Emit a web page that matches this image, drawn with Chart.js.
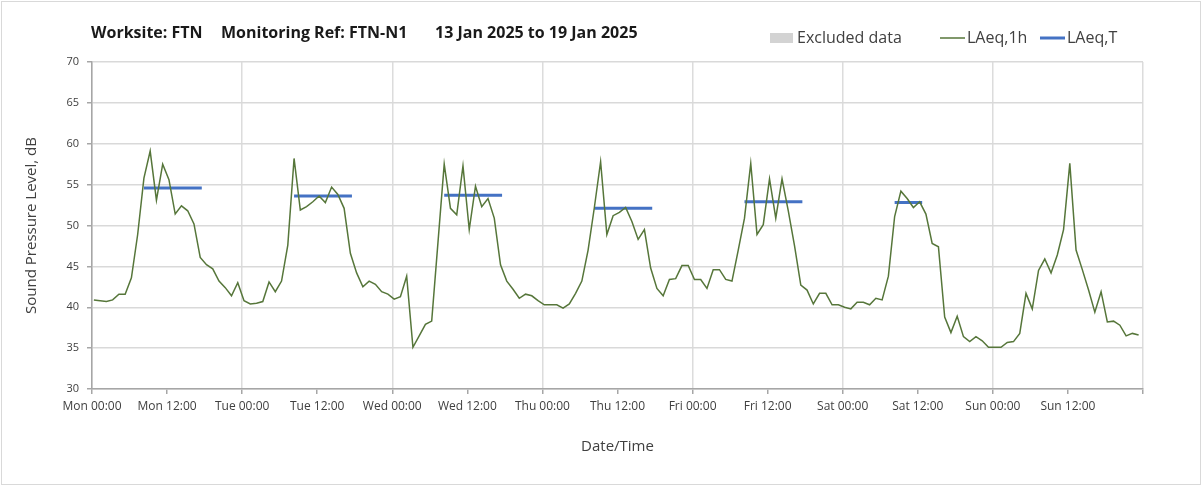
<!DOCTYPE html>
<html>
<head>
<meta charset="utf-8">
<script src="https://cdn.jsdelivr.net/npm/chart.js@4.4.1/dist/chart.umd.min.js"></script>
<style>
    html, body { margin: 0; padding: 0; background: #fff; }
    canvas { display: block; }
</style>
</head>
<body>
<canvas id="noiseChart" width="1202" height="486"></canvas>
<script>
// Hourly LAeq,1h readings, Mon 00:00 to Sun 23:00 (one per hour, 168 values)
const laeq1h = [
    40.9, 40.8, 40.7, 40.9, 41.6, 41.6, 43.6, 48.9, 55.8, 59.1, 53.1, 57.5,
    55.6, 51.4, 52.4, 51.8, 50.2, 46.1, 45.2, 44.7, 43.2, 42.4, 41.4, 43.0,
    40.8, 40.4, 40.5, 40.7, 43.1, 41.9, 43.2, 47.6, 58.2, 51.9, 52.3, 52.9,
    53.6, 52.8, 54.7, 53.8, 52.1, 46.6, 44.2, 42.5, 43.2, 42.8, 41.9, 41.6,
    41.0, 41.3, 43.8, 35.1, 36.5, 37.9, 38.3, 47.9, 57.5, 52.1, 51.3, 57.3,
    49.5, 54.8, 52.3, 53.3, 50.9, 45.2, 43.2, 42.2, 41.1, 41.6, 41.4, 40.8,
    40.3, 40.3, 40.3, 39.9, 40.4, 41.7, 43.2, 47.0, 52.2, 57.8, 48.9, 51.2,
    51.6, 52.2, 50.5, 48.3, 49.5, 44.8, 42.3, 41.4, 43.4, 43.5, 45.1, 45.1,
    43.4, 43.4, 42.3, 44.6, 44.6, 43.4, 43.2, 47.0, 50.9, 57.6, 48.9, 50.1,
    55.7, 50.9, 55.7, 51.8, 47.5, 42.7, 42.1, 40.4, 41.7, 41.7, 40.3, 40.3,
    40.0, 39.8, 40.6, 40.6, 40.3, 41.1, 40.9, 43.8, 51.1, 54.2, 53.3, 52.2,
    52.9, 51.4, 47.8, 47.4, 38.8, 36.9, 38.9, 36.4, 35.8, 36.4, 35.9, 35.1,
    35.1, 35.1, 35.7, 35.8, 36.8, 41.7, 39.8, 44.5, 45.9, 44.2, 46.4, 49.5,
    57.6, 47.0, 44.6, 42.1, 39.4, 41.9, 38.2, 38.3, 37.8, 36.5, 36.8, 36.6
];

// LAeq,T daytime periods (hours from Mon 00:00) and levels
const periodStart = [8, 32, 56, 80, 104, 128];
const periodEnd = [17.25, 41.25, 65.25, 89.25, 113.25, 132.4];
const laeqT = [54.6, 53.6, 53.7, 52.1, 52.9, 52.8];

// x axis labels every 12 hours
const tickLabels = [
    "Mon 00:00", "Mon 12:00", "Tue 00:00", "Tue 12:00", "Wed 00:00", "Wed 12:00",
    "Thu 00:00", "Thu 12:00", "Fri 00:00", "Fri 12:00", "Sat 00:00", "Sat 12:00",
    "Sun 00:00", "Sun 12:00"
];

const titleParts = ["Worksite: FTN", "Monitoring Ref: FTN-N1", "13 Jan 2025 to 19 Jan 2025"];

const FONT = "'Open Sans', 'DejaVu Sans', sans-serif";
const hourOffset = 0.3; // points sit a bit right of the hour tick

const hourlyPoints = laeq1h.map((v, i) => ({ x: i + hourOffset, y: v }));

const periodPoints = [];
laeqT.forEach((v, i) => {
    periodPoints.push({ x: periodStart[i] + hourOffset, y: v });
    periodPoints.push({ x: periodEnd[i] + hourOffset, y: v });
    periodPoints.push({ x: periodEnd[i] + hourOffset + 0.1, y: null });
});

// Frame, title and legend row drawn on the canvas
const headerPlugin = {
    id: "header",
    beforeDraw(chart) {
        const ctx = chart.ctx;
        ctx.save();
        ctx.fillStyle = "#ffffff";
        ctx.fillRect(0, 0, chart.width, chart.height);
        ctx.strokeStyle = "#d9d9d9";
        ctx.lineWidth = 1;
        ctx.strokeRect(1.5, 1.5, chart.width - 3, chart.height - 3);
        ctx.restore();
    },
    afterDraw(chart) {
        const ctx = chart.ctx;
        ctx.save();
        ctx.textBaseline = "middle";
        ctx.fillStyle = "#1a1a1a";
        ctx.font = "bold 16px " + FONT;
        const titleX = [91, 221, 435];
        titleParts.forEach((t, i) => ctx.fillText(t, titleX[i], 33));

        ctx.font = "16px " + FONT;
        // Excluded data
        ctx.fillStyle = "#d3d3d3";
        ctx.fillRect(770, 33, 23, 10);
        ctx.fillStyle = "#404040";
        ctx.fillText("Excluded data", 797, 38);
        // LAeq,1h
        ctx.strokeStyle = "#56763a";
        ctx.lineWidth = 1.5;
        ctx.beginPath(); ctx.moveTo(940, 38); ctx.lineTo(965, 38); ctx.stroke();
        ctx.fillText("LAeq,1h", 967, 38);
        // LAeq,T
        ctx.strokeStyle = "#4472c4";
        ctx.lineWidth = 3;
        ctx.beginPath(); ctx.moveTo(1040, 38); ctx.lineTo(1065, 38); ctx.stroke();
        ctx.fillText("LAeq,T", 1067, 38);
        ctx.restore();
    }
};

const ctx = document.getElementById("noiseChart").getContext("2d");
new Chart(ctx, {
    type: "line",
    data: {
        datasets: [{
            label: "LAeq,1h",
            data: hourlyPoints,
            borderColor: "#56763a",
            borderWidth: 1.5,
            pointRadius: 0,
            tension: 0
        }, {
            label: "LAeq,T",
            data: periodPoints,
            borderColor: "#4472c4",
            borderWidth: 3,
            pointRadius: 0,
            spanGaps: false
        }]
    },
    options: {
        responsive: false,
        animation: false,
        devicePixelRatio: 1,
        layout: { padding: { top: 62, right: 59, bottom: 0, left: 0 } },
        plugins: {
            legend: { display: false },
            tooltip: { enabled: false }
        },
        scales: {
            x: {
                type: "linear",
                min: 0,
                max: 168,
                afterFit: (scale) => { scale.height = 97; },
                border: { color: "#a6a6a6", width: 1.5 },
                grid: {
                    color: (c) => (c.tick && c.tick.value % 24 === 0) ? "#dcdcdc" : "rgba(0,0,0,0)",
                    lineWidth: 1.5,
                    tickColor: "#a6a6a6",
                    tickLength: 5
                },
                ticks: {
                    stepSize: 12,
                    autoSkip: false,
                    maxRotation: 0,
                    padding: 5,
                    color: "#404040",
                    font: { family: FONT, size: 12 },
                    callback: (v) => tickLabels[v / 12] || ""
                },
                title: {
                    display: true,
                    text: "Date/Time",
                    color: "#404040",
                    font: { family: FONT, size: 15 },
                    padding: { top: 4, bottom: 30 }
                }
            },
            y: {
                min: 30,
                max: 70,
                afterFit: (scale) => { scale.width = 92; },
                border: { color: "#a6a6a6", width: 1.5 },
                grid: {
                    color: "#d9d9d9",
                    lineWidth: 1.5,
                    tickColor: "#a6a6a6",
                    tickLength: 5
                },
                ticks: {
                    stepSize: 5,
                    padding: 8,
                    color: "#404040",
                    font: { family: FONT, size: 11 }
                },
                title: {
                    display: true,
                    text: "Sound Pressure Level, dB",
                    color: "#404040",
                    font: { family: FONT, size: 15 },
                    padding: { top: 23, bottom: 4 }
                }
            }
        }
    },
    plugins: [headerPlugin]
});
</script>
</body>
</html>
